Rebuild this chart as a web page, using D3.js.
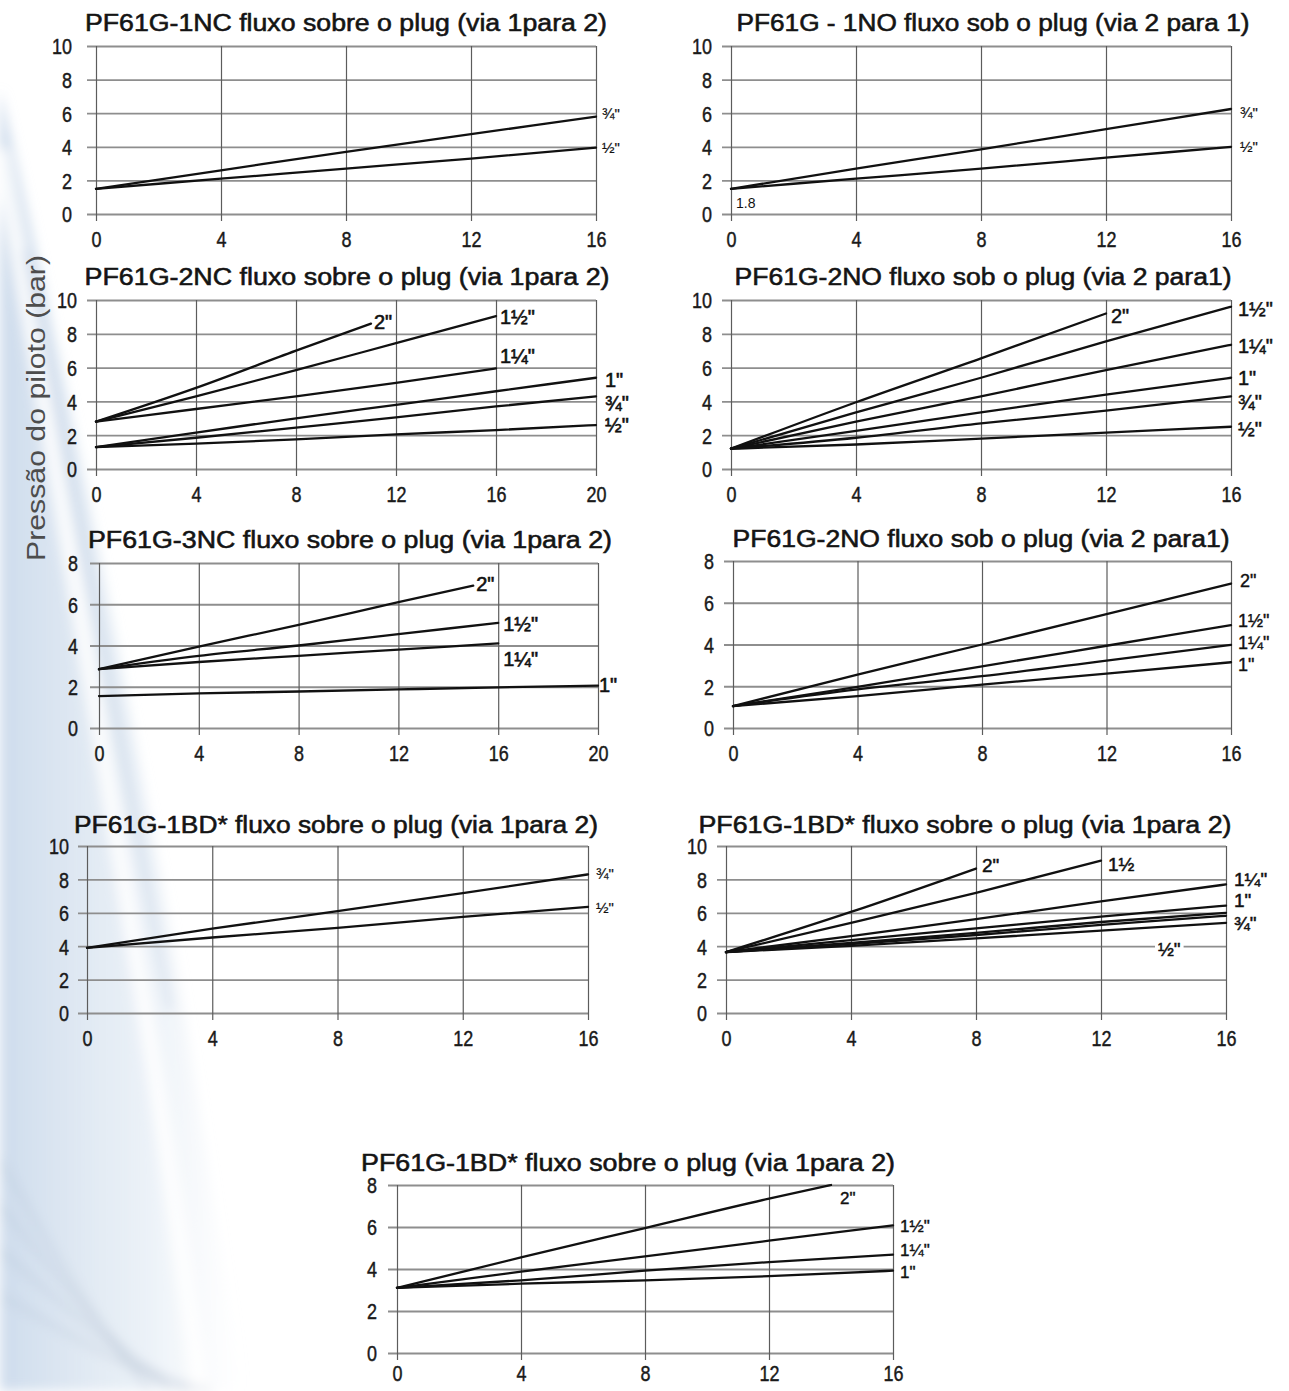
<!DOCTYPE html>
<html>
<head>
<meta charset="utf-8">
<script src="https://cdn.jsdelivr.net/npm/d3@7"></script>
<style>
  html, body { margin: 0; padding: 0; background: #fff; }
  svg { display: block; }
  .title { font-family: "Liberation Sans", Arial, sans-serif; font-size: 23px; fill: #141414; stroke: #141414; stroke-width: 0.55px; }
  .tl    { font-family: "Liberation Sans", Arial, sans-serif; font-size: 22px; fill: #1a1a1a; stroke: #1a1a1a; stroke-width: 0.45px; }
  .lbl   { font-family: "Liberation Sans", Arial, sans-serif; fill: #111; }
  .ytitle { font-family: "Liberation Sans", Arial, sans-serif; font-size: 25px; fill: #4d4d4d; }
</style>
</head>
<body>
<svg id="chart" width="1289" height="1391"></svg>
<script>
// Pilot pressure (bar) against flow for the PF61G valve family

// ---------- values ----------
const titles = [
  "PF61G-1NC fluxo sobre o plug (via 1para 2)",
  "PF61G - 1NO fluxo sob o plug (via 2 para 1)",
  "PF61G-2NC fluxo sobre o plug (via 1para 2)",
  "PF61G-2NO fluxo sob o plug (via 2 para1)",
  "PF61G-3NC fluxo sobre o plug (via 1para 2)",
  "PF61G-2NO fluxo sob o plug (via 2 para1)",
  "PF61G-1BD* fluxo sobre o plug (via 1para 2)",
  "PF61G-1BD* fluxo sobre o plug (via 1para 2)",
  "PF61G-1BD* fluxo sobre o plug (via 1para 2)"
];
const yAxisTitle = "Pressão do piloto (bar)";

const xTicks16 = [0, 4, 8, 12, 16];
const xTicks20 = [0, 4, 8, 12, 16, 20];
const yTicks10 = [0, 2, 4, 6, 8, 10];
const yTicks8  = [0, 2, 4, 6, 8];

const flow16 = [0, 4, 8, 12, 16];
const flow20 = [0, 4, 8, 12, 16, 20];
const flow15 = [0, 4, 8, 12, 15];
const flow14 = [0, 4, 8, 12, 14];
const flow12 = [0, 4, 8, 12];
const flow11 = [0, 4, 8, 11];
const flow8  = [0, 4, 8];

// PF61G-1NC
const nc1Sizes  = ['¾"', '½"'];
const nc1Flows  = [flow16, flow16];
const nc1Values = [[1.5, 2.6, 3.7, 4.75, 5.8], [1.5, 2.1, 2.7, 3.3, 3.95]];

// PF61G-1NO
const no1Sizes  = ['¾"', '½"'];
const no1Flows  = [flow16, flow16];
const no1Values = [[1.5, 2.7, 3.85, 5.05, 6.25], [1.5, 2.1, 2.7, 3.35, 4.0]];
const no1Notes  = [{ text: "1.8", x: 0, y: 0.65 }];

// PF61G-2NC
const nc2Sizes  = ['2"', '1½"', '1¼"', '1"', '¾"', '½"'];
const nc2Flows  = [flow11, flow16, flow16, flow20, flow20, flow20];
const nc2Values = [
  [2.8, 4.8, 7.0, 8.6],
  [2.8, 4.3, 5.85, 7.45, 9.05],
  [2.8, 3.55, 4.3, 5.1, 5.95],
  [1.3, 2.15, 3.0, 3.8, 4.6, 5.4],
  [1.3, 1.85, 2.45, 3.05, 3.7, 4.3],
  [1.3, 1.5, 1.75, 2.05, 2.3, 2.6]
];

// PF61G-2NO (first)
const no2Sizes  = ['2"', '1½"', '1¼"', '1"', '¾"', '½"'];
const no2Flows  = [flow12, flow16, flow16, flow16, flow16, flow16];
const no2Values = [
  [1.2, 3.95, 6.55, 9.2],
  [1.2, 3.35, 5.4, 7.55, 9.6],
  [1.2, 2.8, 4.3, 5.85, 7.35],
  [1.2, 2.25, 3.35, 4.4, 5.4],
  [1.2, 1.85, 2.7, 3.45, 4.3],
  [1.2, 1.45, 1.8, 2.15, 2.5]
];

// PF61G-3NC
const nc3Sizes  = ['2"', '1½"', '1¼"', '1"'];
const nc3Flows  = [flow15, flow16, flow16, flow20];
const nc3Values = [
  [2.85, 3.95, 5.0, 6.1, 6.9],
  [2.85, 3.5, 4.0, 4.55, 5.1],
  [2.85, 3.2, 3.5, 3.8, 4.1],
  [1.55, 1.68, 1.77, 1.87, 1.97, 2.05]
];

// PF61G-2NO (second)
const no2bSizes  = ['2"', '1½"', '1¼"', '1"'];
const no2bFlows  = [flow16, flow16, flow16, flow16];
const no2bValues = [
  [1.05, 2.56, 4.0, 5.45, 6.92],
  [1.05, 1.97, 2.95, 3.94, 4.93],
  [1.05, 1.85, 2.48, 3.23, 3.98],
  [1.05, 1.53, 2.08, 2.6, 3.15]
];

// PF61G-1BD* (½" and ¾")
const bd1Sizes  = ['¾"', '½"'];
const bd1Flows  = [flow16, flow16];
const bd1Values = [[3.9, 5.05, 6.1, 7.18, 8.3], [3.9, 4.52, 5.1, 5.75, 6.35]];

// PF61G-1BD* (½" to 2")
const bd2Sizes  = ['2"', '1½', '1¼"', '1"', '', '¾"', '½"'];
const bd2Flows  = [flow8, flow12, flow16, flow16, flow16, flow16, flow16];
const bd2Values = [
  [3.65, 6.05, 8.65],
  [3.65, 5.4, 7.2, 9.12],
  [3.65, 4.6, 5.62, 6.68, 7.7],
  [3.65, 4.37, 5.07, 5.77, 6.43],
  [3.65, 4.2, 4.8, 5.45, 6.0],
  [3.65, 4.12, 4.67, 5.28, 5.82],
  [3.65, 4.02, 4.47, 4.93, 5.4]
];

// PF61G-1BD* (1" to 2")
const bd3Sizes  = ['2"', '1½"', '1¼"', '1"'];
const bd3Flows  = [flow14, flow16, flow16, flow16];
const bd3Values = [
  [3.1, 4.55, 5.95, 7.35, 8.0],
  [3.1, 3.87, 4.6, 5.35, 6.08],
  [3.1, 3.46, 3.92, 4.33, 4.68],
  [3.1, 3.3, 3.46, 3.66, 3.92]
];

// ---------- panel assembly ----------
function makeSeries(sizes, flows, values) {
  return sizes.map((s, i) => ({ label: s, x: flows[i], y: values[i] }));
}

const panels = [
  { xTicks: xTicks16, yTicks: yTicks10, series: makeSeries(nc1Sizes, nc1Flows, nc1Values), notes: [] },
  { xTicks: xTicks16, yTicks: yTicks10, series: makeSeries(no1Sizes, no1Flows, no1Values), notes: no1Notes },
  { xTicks: xTicks20, yTicks: yTicks10, series: makeSeries(nc2Sizes, nc2Flows, nc2Values), notes: [] },
  { xTicks: xTicks16, yTicks: yTicks10, series: makeSeries(no2Sizes, no2Flows, no2Values), notes: [] },
  { xTicks: xTicks20, yTicks: yTicks8,  series: makeSeries(nc3Sizes, nc3Flows, nc3Values), notes: [] },
  { xTicks: xTicks16, yTicks: yTicks8,  series: makeSeries(no2bSizes, no2bFlows, no2bValues), notes: [] },
  { xTicks: xTicks16, yTicks: yTicks10, series: makeSeries(bd1Sizes, bd1Flows, bd1Values), notes: [] },
  { xTicks: xTicks16, yTicks: yTicks10, series: makeSeries(bd2Sizes, bd2Flows, bd2Values), notes: [] },
  { xTicks: xTicks16, yTicks: yTicks8,  series: makeSeries(bd3Sizes, bd3Flows, bd3Values), notes: [] }
].map((p, i) => Object.assign(p, { title: titles[i] }));

// ---------- layout: plot boxes, title placement, label offsets ----------
// lf = label font size, lb = label weight (stroke), yl = y-label gap, xl = x-label drop
const layout = [
  { x0: 96,  x1: 596,  yT: 46,   yB: 214,  tx: 346, ty: 31,   tw: 522, lf: 15, lb: 0.2, yl: 24, xl: 25,
    off: [[6, -3], [6, 0]] },
  { x0: 731, x1: 1231, yT: 46,   yB: 214,  tx: 993, ty: 31,   tw: 513, lf: 15, lb: 0.2, yl: 19, xl: 25,
    off: [[9, 4], [9, 0]] },
  { x0: 96,  x1: 596,  yT: 300,  yB: 469,  tx: 347, ty: 285,  tw: 525, lf: 20, lb: 0.6, yl: 19, xl: 25,
    off: [[3, -2], [4, 1], [4, -13], [9, 2], [9, 6], [9, 0]] },
  { x0: 731, x1: 1231, yT: 300,  yB: 469,  tx: 983, ty: 285,  tw: 497, lf: 20, lb: 0.5, yl: 19, xl: 25,
    off: [[5, 2], [7, 2], [7, 1], [7, 0], [7, 5], [7, 2]] },
  { x0: 99,  x1: 598,  yT: 563,  yB: 728,  tx: 350, ty: 548,  tw: 524, lf: 20, lb: 0.6, yl: 21, xl: 25,
    off: [[3, -2], [5, 1], [5, 15], [1, -1]] },
  { x0: 733, x1: 1231, yT: 561,  yB: 728,  tx: 981, ty: 547,  tw: 497, lf: 18, lb: 0.4, yl: 19, xl: 25,
    off: [[9, -3], [7, -5], [7, -2], [7, 2]] },
  { x0: 87,  x1: 588,  yT: 846,  yB: 1013, tx: 336, ty: 833,  tw: 524, lf: 15, lb: 0.2, yl: 18, xl: 25,
    off: [[8, -1], [8, 1]] },
  { x0: 726, x1: 1226, yT: 846,  yB: 1013, tx: 965, ty: 833,  tw: 533, lf: 19, lb: 0.5, yl: 19, xl: 25,
    off: [[6, -3], [7, 3], [8, -5], [8, -5], [0, 0], [8, 7], [-68, 26]] },
  { x0: 397, x1: 893,  yT: 1185, yB: 1353, tx: 628, ty: 1171, tw: 534, lf: 17, lb: 0.4, yl: 20, xl: 20,
    off: [[9, 13], [7, 1], [7, -5], [7, 1]] }
];

const svg = d3.select("#chart");

// ---------- soft decorative backdrop on the left edge ----------
const defs = svg.append("defs");
const grad = defs.append("linearGradient").attr("id", "sweep")
  .attr("x1", "0").attr("y1", "0").attr("x2", "1").attr("y2", "0");
grad.append("stop").attr("offset", "0").attr("stop-color", "#b9cde4").attr("stop-opacity", 0.7);
grad.append("stop").attr("offset", "0.6").attr("stop-color", "#d3e0ee").attr("stop-opacity", 0.45);
grad.append("stop").attr("offset", "1").attr("stop-color", "#e8eef6").attr("stop-opacity", 0);
defs.append("filter").attr("id", "soft").attr("x", "-20%").attr("y", "-5%").attr("width", "140%").attr("height", "110%")
  .append("feGaussianBlur").attr("stdDeviation", 6);

const back = svg.append("g").attr("filter", "url(#soft)");
back.append("path")
  .attr("d", "M0,90 C50,300 110,600 165,900 C195,1060 215,1220 245,1391 L0,1391 Z")
  .attr("fill", "url(#sweep)");
back.append("path")
  .attr("d", "M0,150 C45,400 95,700 140,980 C165,1130 185,1280 200,1391")
  .attr("fill", "none").attr("stroke", "#ffffff").attr("stroke-width", 16).attr("stroke-opacity", 0.85);
back.append("path")
  .attr("d", "M25,250 C75,500 125,760 170,1010")
  .attr("fill", "none").attr("stroke", "#9fb6d3").attr("stroke-width", 4).attr("stroke-opacity", 0.45);
[0, 1, 2, 3].forEach(i => {
  back.append("path")
    .attr("d", `M0,${1160 + i * 45} C${50 + i * 10},${1250 + i * 30} ${100 + i * 10},${1330 + i * 15} ${150 + i * 20},1391`)
    .attr("fill", "none").attr("stroke", "#a7b6c9").attr("stroke-width", 3).attr("stroke-opacity", 0.5);
});

// ---------- panels ----------
const line = d3.line().curve(d3.curveMonotoneX);
const digitW = 10; // condensed digit width for tick labels

panels.forEach((p, i) => {
  const L = layout[i];
  const xMax = d3.max(p.xTicks), yMax = d3.max(p.yTicks);
  const x = d3.scaleLinear().domain([0, xMax]).range([L.x0, L.x1]);
  const y = d3.scaleLinear().domain([0, yMax]).range([L.yB, L.yT]);
  const g = svg.append("g");

  // title
  g.append("text").attr("class", "title")
    .attr("x", L.tx).attr("y", L.ty).attr("text-anchor", "middle")
    .attr("textLength", L.tw).attr("lengthAdjust", "spacingAndGlyphs")
    .text(p.title);

  // horizontal grid (with left stubs) and y tick labels
  const ya = g.append("g").attr("transform", `translate(${L.x0},0)`)
    .call(d3.axisLeft(y).tickValues(p.yTicks).tickSize(0).tickPadding(L.yl));
  ya.select(".domain").remove();
  ya.selectAll(".tick line")
    .attr("x1", -9).attr("x2", L.x1 - L.x0)
    .attr("stroke", "#8e8e8e").attr("stroke-width", 1.8);
  ya.selectAll(".tick text").attr("class", "tl").attr("dy", "0.36em")
    .attr("textLength", d => String(d).length * digitW).attr("lengthAdjust", "spacingAndGlyphs");

  // vertical grid (with bottom stubs) and x tick labels
  const xa = g.append("g").attr("transform", `translate(0,${L.yB})`)
    .call(d3.axisBottom(x).tickValues(p.xTicks).tickSize(0).tickPadding(0));
  xa.select(".domain").remove();
  xa.selectAll(".tick line")
    .attr("y1", -(L.yB - L.yT)).attr("y2", 7)
    .attr("stroke", "#5c5c5c").attr("stroke-width", 1.2);
  xa.selectAll(".tick text").attr("class", "tl").attr("y", L.xl).attr("dy", "0.36em")
    .attr("textLength", d => String(d).length * digitW).attr("lengthAdjust", "spacingAndGlyphs");

  // curves
  p.series.forEach((s, k) => {
    const pts = s.x.map((xv, j) => [x(xv), y(s.y[j])]);
    g.append("path").attr("d", line(pts))
      .attr("fill", "none").attr("stroke", "#111").attr("stroke-width", 2.3)
      .attr("stroke-linejoin", "round").attr("stroke-linecap", "round");

    if (s.label) {
      const last = pts[pts.length - 1];
      const o = L.off[k];
      const t = g.append("text").attr("class", "lbl")
        .attr("x", last[0] + o[0]).attr("y", last[1] + o[1]).attr("dy", "0.36em")
        .attr("font-size", L.lf).attr("stroke", "#111").attr("stroke-width", L.lb)
        .text(s.label);
      if (o[0] < 0) {
        // label sitting on a gridline gets a white backing
        const bb = t.node().getBBox();
        g.insert("rect", () => t.node())
          .attr("x", bb.x - 3).attr("y", bb.y + 2).attr("width", bb.width + 6).attr("height", bb.height - 4)
          .attr("fill", "#fff");
      }
    }
  });

  // small value notes
  p.notes.forEach(n => {
    g.append("text").attr("class", "lbl").attr("font-size", 14)
      .attr("x", x(n.x) + 5).attr("y", y(n.y)).attr("dy", "0.36em").text(n.text);
  });
});

// shared y-axis title
svg.append("text").attr("class", "ytitle")
  .attr("transform", "translate(45,408) rotate(-90)")
  .attr("text-anchor", "middle")
  .attr("textLength", 306).attr("lengthAdjust", "spacingAndGlyphs")
  .text(yAxisTitle);
</script>
</body>
</html>
